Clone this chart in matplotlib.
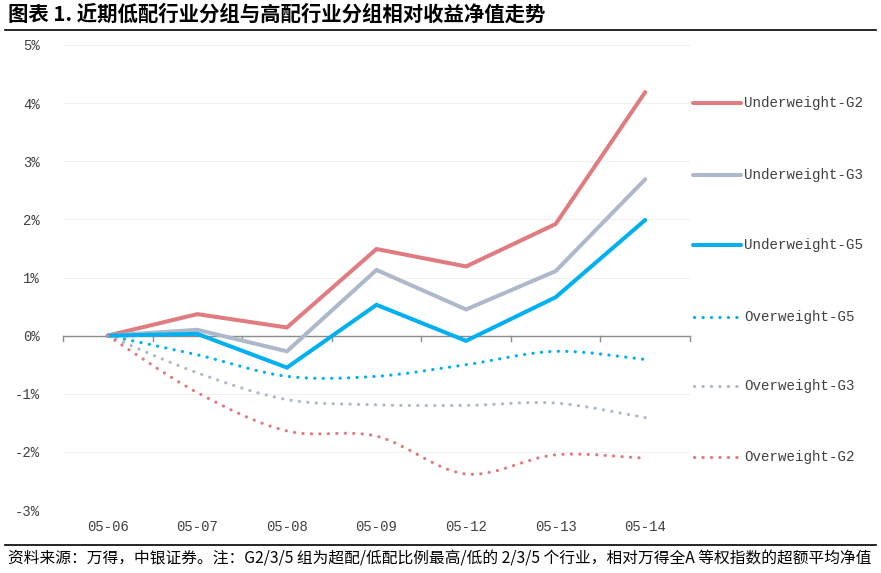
import numpy as np
import matplotlib
matplotlib.use("Agg")
import matplotlib.pyplot as plt
from matplotlib.path import Path
from matplotlib.patches import PathPatch
from matplotlib.lines import Line2D

plt.rcParams['font.family'] = ['Noto Sans CJK SC', 'DejaVu Sans']

categories = ["05-06", "05-07", "05-08", "05-09", "05-12", "05-13", "05-14"]
under_g2 = [0.0, 0.37, 0.14, 1.49, 1.19, 1.92, 4.19]
under_g3 = [0.0, 0.10, -0.27, 1.13, 0.45, 1.11, 2.69]
under_g5 = [0.0, 0.03, -0.55, 0.53, -0.09, 0.66, 1.99]
over_g5 = [0.0, -0.33, -0.70, -0.70, -0.50, -0.27, -0.41]
over_g3 = [0.0, -0.64, -1.10, -1.19, -1.20, -1.16, -1.41]
over_g2 = [0.0, -0.98, -1.64, -1.73, -2.38, -2.05, -2.11]
yticks = [-3, -2, -1, 0, 1, 2, 3, 4, 5]
ytick_labels = ["-3%", "-2%", "-1%", "0%", "1%", "2%", "3%", "4%", "5%"]

RED = "#e07b80"
GREY = "#adb9ca"
BLUE = "#00b0f0"
TXT = "#404040"
MONO = 'Liberation Mono'

solid_series = [("Underweight-G2", under_g2, RED),
                ("Underweight-G3", under_g3, GREY),
                ("Underweight-G5", under_g5, BLUE)]
dotted_series = [("Overweight-G5", over_g5, BLUE),
                 ("Overweight-G3", over_g3, GREY),
                 ("Overweight-G2", over_g2, RED)]

W, H = 881, 573
fig = plt.figure(figsize=(W / 100, H / 100), dpi=100)
ax = fig.add_axes([63 / W, 1 - 510 / H, (690 - 63) / W, (510 - 45) / H])

x = np.arange(len(categories))


def smooth_path(xs, ys):
    pts = np.column_stack([xs, ys]).astype(float)
    verts = [pts[0]]
    codes = [Path.MOVETO]
    n = len(pts)
    for i in range(n - 1):
        p0 = pts[i - 1] if i > 0 else pts[i]
        p1 = pts[i]
        p2 = pts[i + 1]
        p3 = pts[i + 2] if i + 2 < n else pts[i + 1]
        c1 = p1 + (p2 - p0) / 6.0
        c2 = p2 - (p3 - p1) / 6.0
        verts += [c1, c2, p2]
        codes += [Path.CURVE4] * 3
    return Path(verts, codes)


for name, vals, c in solid_series:
    ax.plot(x, vals, color=c, lw=2.9, solid_joinstyle='miter', solid_capstyle='round', zorder=3)

for name, vals, c in dotted_series:
    patch = PathPatch(smooth_path(x, vals), fill=False, edgecolor=c, lw=2.3,
                      linestyle=(0, (0.05, 2.6)), capstyle='round', zorder=3)
    ax.add_patch(patch)

ax.set_xlim(-0.5, len(categories) - 0.5)
ax.set_ylim(-3, 5)
ax.set_yticks(yticks)
ax.set_yticklabels(ytick_labels)
ax.set_xticks([])
for s in ax.spines.values():
    s.set_visible(False)
ax.tick_params(axis='y', length=0, pad=16.5, labelsize=10, labelcolor=TXT)
for lab in ax.get_yticklabels():
    lab.set_fontfamily(MONO)
ax.grid(axis='y', color="#f0f0f0", lw=0.8)
ax.set_axisbelow(True)

# zero line with category boundary ticks
ax.axhline(0, color="#8c8c8c", lw=1.0, zorder=2)
trans = ax.get_xaxis_transform()
for b in np.arange(-0.5, len(categories), 1.0):
    ax.plot([b, b], [0, -0.09], color="#8c8c8c", lw=1.0, zorder=2, clip_on=False)

for i, cat in enumerate(categories):
    ax.text(i, -0.037, cat, transform=trans, ha='center', va='center',
            fontsize=10, color=TXT, family=MONO)

# legend (manual)
leg_y = [103, 175, 245, 317, 386, 457]
entries = solid_series + dotted_series
for k, ((name, vals, c), yy) in enumerate(zip(entries, leg_y)):
    yf = 1 - yy / H
    if k < 3:
        fig.add_artist(Line2D([693 / W, 741 / W], [yf, yf], color=c, lw=2.9,
                              solid_capstyle='round', transform=fig.transFigure))
    else:
        fig.add_artist(Line2D([694 / W, 737 / W], [yf, yf], color=c, lw=2.3,
                              linestyle=(0, (0.05, 2.6)), dash_capstyle='round',
                              transform=fig.transFigure))
    fig.text(744 / W, yf, name, ha='left', va='center', fontsize=10.2,
             color=TXT, family=MONO)

# title and footer
fig.text(8 / W, 1 - 14 / H, "图表 1. 近期低配行业分组与高配行业分组相对收益净值走势",
         ha='left', va='center', fontsize=14.7, fontweight='bold', color='black')
fig.add_artist(Line2D([5 / W, 876 / W], [1 - 30 / H, 1 - 30 / H], color='black', lw=1.2,
                      transform=fig.transFigure))
fig.add_artist(Line2D([5 / W, 876 / W], [1 - 545 / H, 1 - 545 / H], color='black', lw=1.2,
                      transform=fig.transFigure))
fig.text(8 / W, 1 - 559 / H,
         "资料来源：万得，中银证券。注：G2/3/5 组为超配/低配比例最高/低的 2/3/5 个行业，相对万得全A 等权指数的超额平均净值",
         ha='left', va='center', fontsize=11.3, color='black')

fig.savefig("out.png", dpi=100)
